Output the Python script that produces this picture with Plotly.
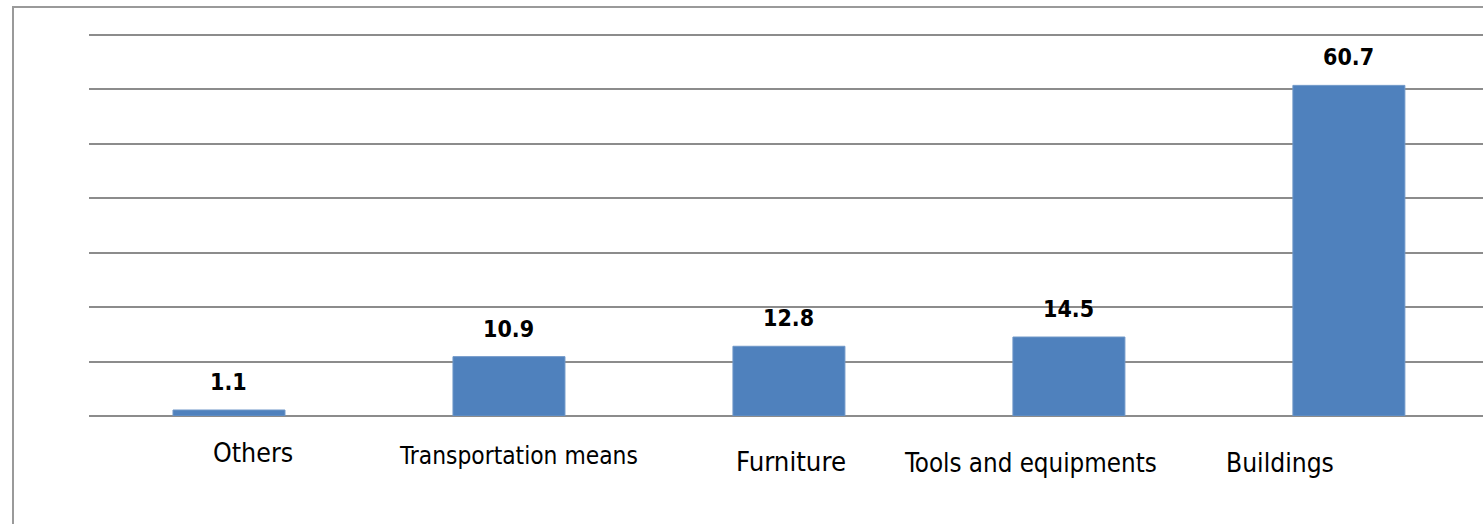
import plotly.graph_objects as go

# Category shares (percent)
categories = ["Others", "Transportation means", "Furniture", "Tools and equipments", "Buildings"]
values = [1.1, 10.9, 12.8, 14.5, 60.7]
value_labels = ["1.1", "10.9", "12.8", "14.5", "60.7"]

# per-label placement of the category captions under the axis
cat_xshift = [24, 10, 2, -38, -69]
cat_ypix = [452, 455, 461, 463, 463]
cat_size = [26.5, 24.3, 27.3, 25.7, 26.2]

W, H = 1483, 524
ML, MT, MB = 89, 32, 108
plot_h = H - MT - MB

FONT = "DejaVu Sans Condensed, Liberation Sans Narrow, sans-serif"
BAR = "#4F81BD"

fig = go.Figure()
fig.add_trace(go.Bar(
    x=categories, y=values,
    marker=dict(color=BAR, line=dict(color="#6f97c8", width=1)),
    width=0.4,
    hoverinfo="x+y",
))

annotations = []
for c, v, t in zip(categories, values, value_labels):
    annotations.append(dict(
        x=c, y=v, xref="x", yref="y", text=f"<b>{t}</b>", showarrow=False,
        yanchor="bottom", yshift=13,
        font=dict(family=FONT, size=23, color="#000000"),
    ))
for c, dx, yp, fs in zip(categories, cat_xshift, cat_ypix, cat_size):
    annotations.append(dict(
        x=c, y=(H - MB - yp) / plot_h, xref="x", yref="paper", text=c, showarrow=False,
        yanchor="middle", xshift=dx,
        font=dict(family=FONT, size=fs, color="#000000"),
    ))

fig.update_layout(
    width=W, height=H,
    margin=dict(l=ML, r=0, t=MT, b=MB),
    paper_bgcolor="white", plot_bgcolor="white",
    showlegend=False,
    bargap=0.6,
    xaxis=dict(
        type="category", range=[-0.5, 4.479],
        showticklabels=False, showgrid=False, zeroline=False,
        showline=False, ticks="",
    ),
    yaxis=dict(
        range=[0, 70.5], dtick=10, tick0=0,
        showticklabels=False, showgrid=True,
        gridcolor="#8c8c8c", gridwidth=1.5,
        zeroline=True, zerolinecolor="#8c8c8c", zerolinewidth=1.5,
        showline=False, ticks="",
    ),
    annotations=annotations,
    shapes=[dict(
        type="rect", xref="paper", yref="paper",
        x0=(13 - ML) / (W - ML), x1=1.2,
        y0=-1.0, y1=(H - MB - 7) / plot_h,
        line=dict(color="#9a9a9a", width=2), fillcolor="rgba(0,0,0,0)",
        layer="below",
    )],
)

fig.write_html("out.html")
